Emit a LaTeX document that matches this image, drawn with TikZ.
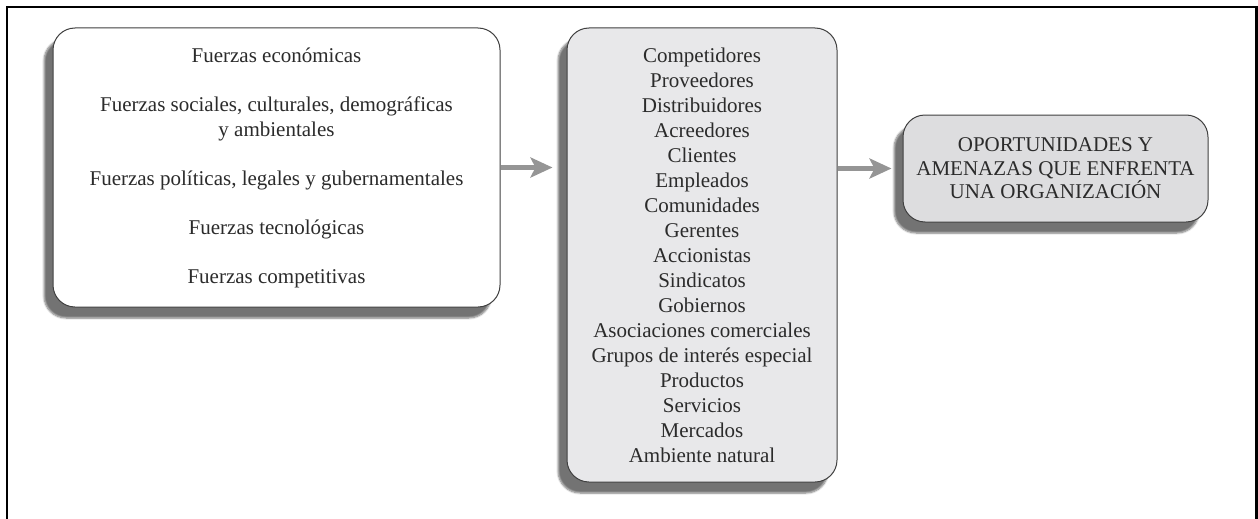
\documentclass[tikz,border=0pt]{standalone}
\usepackage{fontspec}
\setmainfont{Liberation Serif}
\usetikzlibrary{positioning,shadows.blur,arrows.meta}
\definecolor{textgray}{HTML}{2B2B2B}
\definecolor{midfill}{HTML}{E8E8EA}
\definecolor{rightfill}{HTML}{DDDDDF}
\definecolor{arrowgray}{HTML}{959595}
\tikzset{
	caja/.style={draw=black!75, line width=1pt, rounded corners=22pt, align=center,
		text=textgray, font=\fontsize{21}{25}\selectfont,
		blur shadow={shadow xshift=-9pt, shadow yshift=-11pt, shadow blur steps=6, shadow opacity=55}},
	flecha/.style={line width=5pt, draw=arrowgray, -{Stealth[length=22pt,width=20pt,inset=5pt]}}
}
\begin{document}
\begin{tikzpicture}[x=1pt,y=-1pt]
\useasboundingbox (0,0) rectangle (1258,519);
% marco
\draw[line width=2.3pt] (7,7) rectangle (1256.5,560);

% fuerzas externas
\node[caja, fill=white, minimum width=447pt, minimum height=279pt] (fuerzas) at (276.5,167.5)
	{Fuerzas económicas\\[24pt]
	Fuerzas sociales, culturales, demográficas\\
	y ambientales\\[24pt]
	Fuerzas políticas, legales y gubernamentales\\[24pt]
	Fuerzas tecnológicas\\[24pt]
	Fuerzas competitivas};

% actores
\node[caja, fill=midfill, minimum width=270pt, minimum height=454pt] (actores) at (702,255)
	{Competidores\\ Proveedores\\ Distribuidores\\ Acreedores\\ Clientes\\
	Empleados\\ Comunidades\\ Gerentes\\ Accionistas\\ Sindicatos\\ Gobiernos\\
	Asociaciones comerciales\\ Grupos de interés especial\\ Productos\\
	Servicios\\ Mercados\\ Ambiente natural};

% resultado
\node[caja, fill=rightfill, minimum width=305pt, minimum height=107pt,
	font=\fontsize{21}{23.5}\selectfont] (oportunidades) at (1055.5,168.5)
	{OPORTUNIDADES Y\\ AMENAZAS QUE ENFRENTA\\ UNA ORGANIZACIÓN};

\draw[flecha, shorten >=14pt] (fuerzas.east) -- (fuerzas.east -| actores.west);
\draw[flecha, shorten >=11pt] (actores.east |- oportunidades.west) -- (oportunidades.west);
\end{tikzpicture}
\end{document}
